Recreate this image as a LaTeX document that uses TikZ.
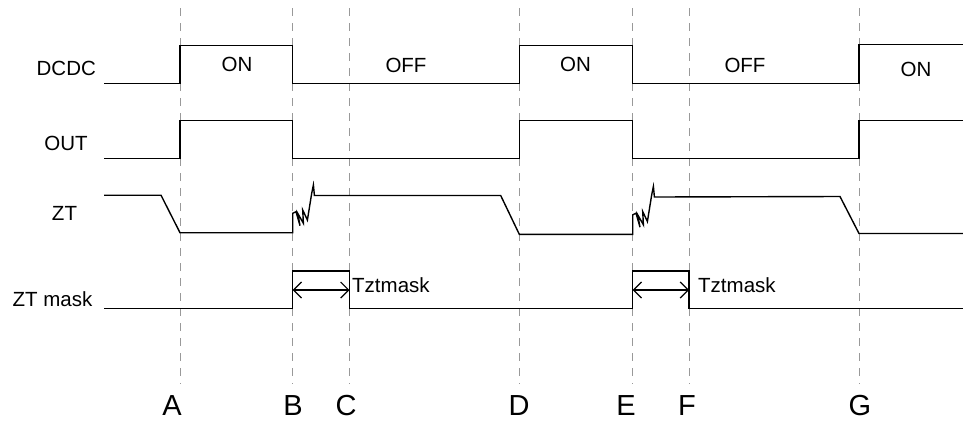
\documentclass[tikz,border=0pt]{standalone}
\usepackage{fontspec}
\setmainfont{Liberation Sans}
\usetikzlibrary{arrows.meta}
\begin{document}
\begin{tikzpicture}[x=1pt,y=-1pt,
  sig/.style={line width=1.4pt, black, line join=miter},
  guide/.style={line width=0.9pt, color=black!40, dash pattern=on 8pt off 7pt},
  lbl/.style={font=\fontsize{20.5}{24}\selectfont, inner sep=0pt},
  tick/.style={font=\fontsize{29}{33}\selectfont, inner sep=0pt},
  meas/.style={line width=1.2pt, {Straight Barb[length=8pt,width=16pt]}-{Straight Barb[length=8pt,width=16pt]}},
  glitch/.style={insert path={-- ++(3.3,-1.6) -- ++(4,14) -- ++(-2.3,-12.4) -- ++(5.7,10) -- ++(-0.7,-13.3) -- ++(4.7,10) -- ++(4.3,-26.7) -- ++(1.7,-8.3) -- ++(1,10.5)}}]
\useasboundingbox (0,0) rectangle (963,421);
% time marks
\foreach \n/\x in {A/180,B/292.7,C/349.5,D/519.3,E/632.7,F/689,G/859}{
  \coordinate (top\n) at (\x,8);
  \coordinate (bot\n) at (\x,384);
  \draw[guide] (top\n) -- (bot\n);
}
% signal labels
\node[lbl] (lDCDC) at (66.3,68.3) {DCDC};
\node[lbl] (lOUT) at (66,143) {OUT};
\node[lbl] (lZT) at (64.5,213) {ZT};
\node[lbl] (lZTm) at (52.5,299) {ZT mask};
% state labels
\node[lbl] (on1) at (237,64) {ON};
\node[lbl] (off1) at (406,65) {OFF};
\node[lbl] (on2) at (575.5,64) {ON};
\node[lbl] (off2) at (745,65) {OFF};
\node[lbl] (on3) at (916,69) {ON};
% DCDC
\draw[sig] (104,83.3) -- (180,83.3) -- (180,45.7) -- (292.7,45.7) -- (292.7,83.3) -- (519.3,83.3) -- (519.3,45.7) -- (632.7,45.7) -- (632.7,83.3) -- (859,83.3) -- (859,44.7) -- (963,44.7);
% OUT
\draw[sig] (104,158.5) -- (180,158.5) -- (180,120.7) -- (292.7,120.7) -- (292.7,158.5) -- (519.3,158.5) -- (519.3,120.7) -- (632.7,120.7) -- (632.7,158.5) -- (859,158.5) -- (859,120.2) -- (963,120.2);
% ZT
\draw[sig] (104,195.2) -- (161,195.2) -- (180,232.7) -- (292.7,232.7) -- (292.7,213.3) [glitch] -- (500.7,195.5) -- (519.3,234.3) -- (632.7,234.3) -- (632.7,214.8) [glitch] -- (840,196.5) -- (859,233.5) -- (963,233.5);
% ZT mask
\draw[sig] (104,308.7) -- (292.7,308.7) -- (292.7,271) -- (349.5,271) -- (349.5,308.7) -- (632.7,308.7) -- (632.7,271) -- (689,271) -- (689,308.7) -- (963,308.7);
% Tztmask measures
\coordinate (m1a) at (292.7,290);
\coordinate (m1b) at (349.5,290);
\coordinate (m2a) at (632.7,290);
\coordinate (m2b) at (689,290);
\draw[meas] (m1a) -- (m1b);
\draw[meas] (m2a) -- (m2b);
\node[lbl, anchor=west] (tz1) at (352,285.5) {Tztmask};
\node[lbl, anchor=west] (tz2) at (698,285.5) {Tztmask};
% time letters
\node[tick] (tA) at (172,406) {A};
\node[tick] (tB) at (293,406) {B};
\node[tick] (tC) at (346,406) {C};
\node[tick] (tD) at (519,406) {D};
\node[tick] (tE) at (626,406) {E};
\node[tick] (tF) at (687,406) {F};
\node[tick] (tG) at (860,406) {G};
\end{tikzpicture}
\end{document}
